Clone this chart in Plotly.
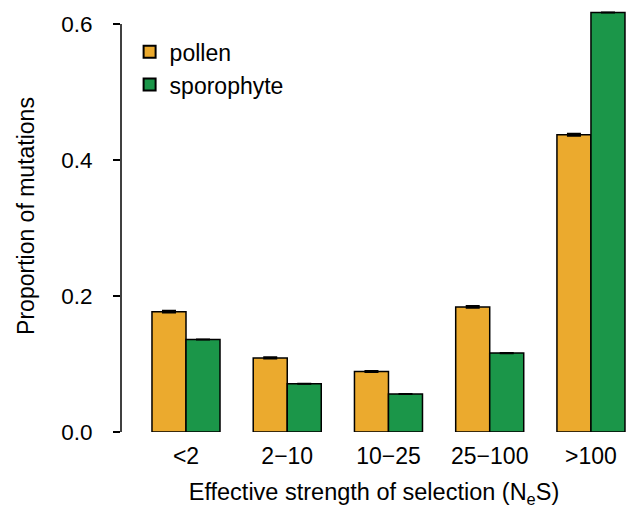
import plotly.graph_objects as go

categories = ["<2", "2\u221210", "10\u221225", "25\u2212100", ">100"]
pollen = [0.177, 0.109, 0.089, 0.184, 0.437]
sporophyte = [0.136, 0.071, 0.056, 0.116, 0.617]
pollen_err = [0.0012, 0.0008, 0.0008, 0.0012, 0.0015]
sporo_err = [0.0004, 0.0004, 0.0004, 0.0004, 0.0004]

FONT = "Liberation Sans, Arial, Helvetica, sans-serif"

fig = go.Figure()
fig.add_trace(go.Bar(
    x=categories, y=pollen, name="pollen",
    marker=dict(color="#EBAA2E", line=dict(color="black", width=1.5)),
    error_y=dict(type="data", array=pollen_err, color="black", thickness=2, width=7),
))
fig.add_trace(go.Bar(
    x=categories, y=sporophyte, name="sporophyte",
    marker=dict(color="#1B9649", line=dict(color="black", width=1.5)),
    error_y=dict(type="data", array=sporo_err, color="black", thickness=1.5, width=7),
))

fig.update_layout(
    width=627, height=510,
    margin=dict(l=121, r=0, t=0, b=78),
    plot_bgcolor="white", paper_bgcolor="white",
    barmode="group", bargap=0.328, bargroupgap=0,
    font=dict(family=FONT, size=23, color="black"),
    showlegend=True,
    legend=dict(x=0.017, y=0.93, xanchor="left", yanchor="top",
                bgcolor="rgba(0,0,0,0)", font=dict(size=23),
                itemsizing="constant", tracegroupgap=4),
    xaxis=dict(
        type="category", range=[-0.642, 4.356],
        showline=False, showgrid=False, zeroline=False,
        ticks="", ticklabelstandoff=8,
        tickfont=dict(size=23),
        title=dict(text="Effective strength of selection (N<sub>e</sub>S)",
                   font=dict(size=23.5), standoff=15),
    ),
    yaxis=dict(
        range=[0, 0.6353],
        tickvals=[0, 0.2, 0.4, 0.6], ticktext=["0.0", "0.2", "0.4", "0.6"],
        showline=False, showgrid=False, zeroline=False,
        ticks="outside", ticklen=7, tickwidth=1.5, tickcolor="black",
        ticklabelstandoff=16,
        tickfont=dict(size=22.5),
        title=dict(text="Proportion of mutations", font=dict(size=23), standoff=20),
    ),
)

# R-style y axis line spanning only 0..0.6
fig.add_shape(type="line", xref="paper", yref="y", x0=0, x1=0, y0=0, y1=0.6,
              line=dict(color="black", width=1.5))

fig.write_html("out.html")
